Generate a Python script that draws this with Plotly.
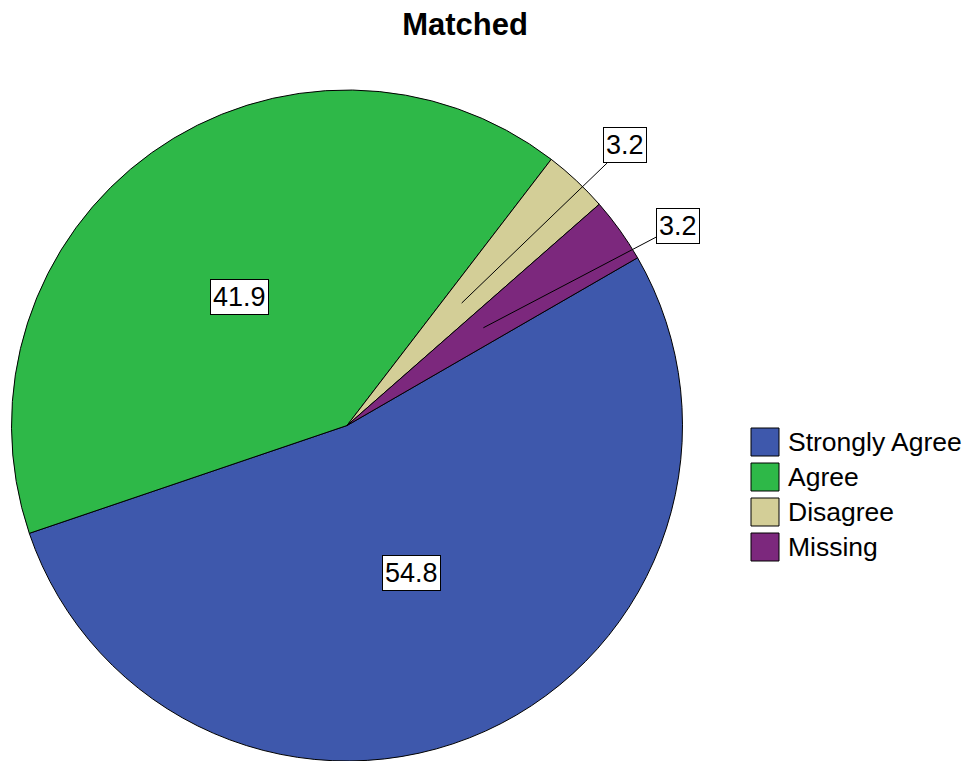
import math
import plotly.graph_objects as go

# ---- data ----
categories = ["Strongly Agree", "Agree", "Disagree", "Missing"]
counts = [17, 13, 1, 1]
pct_labels = ["54.8", "41.9", "3.2", "3.2"]
colors = ["#3E58AC", "#2EB848", "#D3CE97", "#7C287D"]
title_text = "Matched"

# ---- layout / style ----
PAGE_W, PAGE_H = 971, 761
OFF = 8  # default body margin of the html page
W, H = PAGE_W - OFF, PAGE_H - OFF
FONT = "Liberation Sans, Arial, sans-serif"
# pie circle in page pixels: center (347, 426), radius 336
pie_cx, pie_cy, pie_r = 347 - OFF, 426 - OFF, 336
dom_x = [(pie_cx - pie_r) / W, (pie_cx + pie_r) / W]
dom_y = [max(0.0, 1 - (pie_cy + pie_r) / H), 1 - (pie_cy - pie_r) / H]
rotation = 60
label_r = [0.48, 0.5, 1.177, 1.152]
label_shift = [0.8, -4.2, 1.7, 4.5]
label_inside = [True, True, False, False]

fig = go.Figure()
fig.add_trace(go.Pie(
    labels=categories, values=counts, sort=False, direction="clockwise",
    rotation=rotation, textinfo="none", hoverinfo="label+value",
    marker=dict(colors=colors, line=dict(color="black", width=1)),
    domain=dict(x=dom_x, y=dom_y), showlegend=False,
))

cx = W * (dom_x[0] + dom_x[1]) / 2
R = min(W * (dom_x[1] - dom_x[0]), H * (dom_y[1] - dom_y[0])) / 2
cy = H * (1 - (dom_y[0] + dom_y[1]) / 2)


def pt(angle_deg, rr):
    a = math.radians(angle_deg)
    return cx + rr * R * math.sin(a), cy - rr * R * math.cos(a)


annotations = []
total = sum(counts)
cum = 0
for i, c in enumerate(counts):
    a0 = rotation + cum / total * 360
    a1 = a0 + c / total * 360
    cum += c
    mid = (a0 + a1) / 2
    tx, ty = pt(mid + label_shift[i], label_r[i])
    common = dict(text=pct_labels[i], font=dict(family=FONT, size=27, color="black"),
                  bgcolor="white", bordercolor="black", borderwidth=1, borderpad=2,
                  xref="paper", yref="paper")
    if label_inside[i]:
        annotations.append(dict(x=tx / W, y=1 - ty / H, showarrow=False,
                                xanchor="center", yanchor="middle", **common))
    else:
        px, py = pt(mid, 0.5)
        annotations.append(dict(x=px / W, y=1 - py / H, ax=tx - px, ay=ty - py,
                                showarrow=True, arrowhead=0, arrowwidth=1,
                                arrowcolor="black", standoff=0, startstandoff=0,
                                **common))

# custom legend (page pixels)
shapes = []
leg_x0, leg_size, leg_top, leg_step, leg_text_x = 751 - OFF, 28, 428 - OFF, 35, 786 - OFF
for i, (cat, col) in enumerate(zip(categories, colors)):
    y0 = leg_top + i * leg_step
    shapes.append(dict(type="rect", xref="paper", yref="paper",
                       x0=leg_x0 / W, x1=(leg_x0 + leg_size) / W,
                       y0=1 - y0 / H, y1=1 - (y0 + leg_size) / H,
                       fillcolor=col, line=dict(color="black", width=1)))
    annotations.append(dict(x=leg_text_x / W, y=1 - (y0 + leg_size / 2) / H,
                            xref="paper", yref="paper", text=cat, showarrow=False,
                            xanchor="left", yanchor="middle",
                            font=dict(family=FONT, size=26.5, color="black")))

fig.update_layout(
    width=W, height=H, margin=dict(l=0, r=0, t=0, b=0),
    paper_bgcolor="white", plot_bgcolor="white",
    title=dict(text="<b>" + title_text + "</b>", x=(465 - OFF) / W, xanchor="center",
               y=1 - (24 - OFF) / H, yanchor="middle",
               font=dict(family=FONT, size=31, color="black")),
    annotations=annotations, shapes=shapes, showlegend=False,
)

fig.write_html("out.html")
